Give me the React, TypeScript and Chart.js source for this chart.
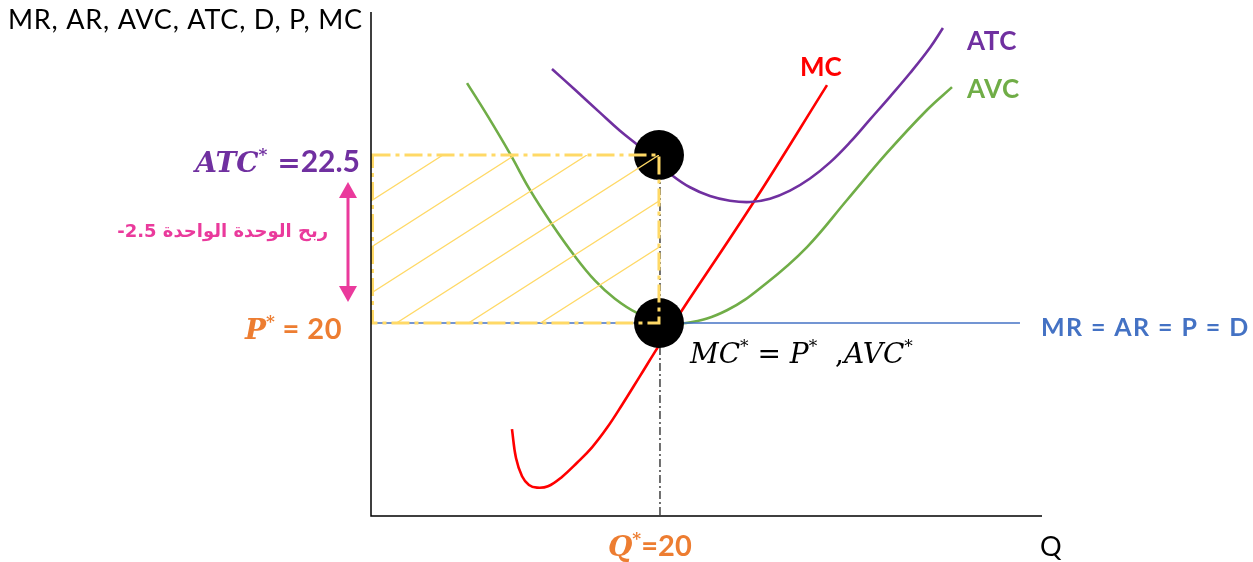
import React, { useEffect, useRef } from "react";
import { Chart, registerables } from "chart.js";

Chart.register(...registerables);

// ---------- data (Q in units, price in units) ----------
const mcQ = [9.79, 10.07, 10.49, 10.97, 11.53, 12.29, 13.26, 14.31, 15.35, 16.39, 17.43, 18.68, 20.07, 21.6, 26.67, 31.67];
const mcValues = [18.42, 17.99, 17.72, 17.59, 17.55, 17.57, 17.71, 17.92, 18.15, 18.44, 18.78, 19.21, 19.69, 20.19, 21.83, 23.54];

const avcQ = [6.67, 8.13, 9.65, 11.04, 12.57, 14.17, 15.56, 16.94, 18.47, 20.07, 21.88, 24.72, 27.5, 30.28, 33.06, 35.83, 38.61, 40.35];
const avcValues = [23.57, 23.07, 22.52, 21.98, 21.47, 20.99, 20.63, 20.36, 20.15, 20.04, 20.0, 20.19, 20.6, 21.13, 21.83, 22.53, 23.17, 23.51];

const atcQ = [12.57, 14.17, 15.9, 17.29, 18.68, 19.79, 20.9, 22.15, 23.54, 24.93, 26.32, 27.71, 29.1, 30.49, 31.88, 33.27, 34.66, 36.05, 37.44, 38.83, 39.72];
const atcValues = [23.78, 23.47, 23.13, 22.86, 22.62, 22.41, 22.2, 22.02, 21.89, 21.82, 21.8, 21.85, 21.97, 22.15, 22.39, 22.69, 23.03, 23.37, 23.72, 24.1, 24.39];

const mrQ = [0, 45.07];
const mrValues = [20, 20];

const qStar = 20;
const pStar = 20;
const atcStar = 22.5;

const xMin = 0;
const xMax = 46.6;
const yMin = 17.128;
const yMax = 24.628;

// ---------- text ----------
const yAxisTitle = "MR, AR, AVC, ATC, D, P, MC";
const xAxisTitle = "Q";
const mcLabel = "MC";
const atcLabel = "ATC";
const avcLabel = "AVC";
const mrLabel = "MR = AR = P = D";
const profitLabel = "ربح الوحدة الواحدة 2.5-";
const atcStarValue = "22.5";
const pStarValue = "20";
const qStarValue = "20";

const PURPLE = "#7030A0";
const GREEN = "#70AD47";
const RED = "#FF0000";
const BLUE = "#4472C4";
const ORANGE = "#ED7D31";
const YELLOW = "#FFD966";
const PINK = "#EA3A9C";

const SERIF = '"DejaVu Serif"';
const SANS = "Lato";

type Run = { t: string; font: string; color: string; dy?: number; ls?: number };

function drawRuns(ctx: CanvasRenderingContext2D, runs: Run[], x: number, y: number, align: "left" | "right" | "center") {
  const c: any = ctx;
  const widths = runs.map((r) => {
    ctx.font = r.font;
    c.letterSpacing = `${r.ls || 0}px`;
    return ctx.measureText(r.t).width;
  });
  const total = widths.reduce((a, b) => a + b, 0);
  let cx = align === "left" ? x : align === "right" ? x - total : x - total / 2;
  ctx.textAlign = "left";
  ctx.textBaseline = "alphabetic";
  runs.forEach((r, i) => {
    ctx.font = r.font;
    c.letterSpacing = `${r.ls || 0}px`;
    ctx.fillStyle = r.color;
    ctx.fillText(r.t, cx, y + (r.dy || 0));
    cx += widths[i];
  });
  c.letterSpacing = "0px";
}

const overlayPlugin = {
  id: "econOverlay",
  afterDatasetsDraw(chart: any) {
    const { ctx, chartArea, scales } = chart;
    const x = scales.x;
    const y = scales.y;
    const qx = x.getPixelForValue(qStar);
    const py = y.getPixelForValue(pStar);
    const ay = y.getPixelForValue(atcStar);
    const left = chartArea.left;

    ctx.save();
    // vertical dash-dot from ATC* to axis
    ctx.strokeStyle = "#404040";
    ctx.lineWidth = 1.5;
    ctx.setLineDash([8, 3, 2, 3]);
    ctx.beginPath();
    ctx.moveTo(qx + 1, ay);
    ctx.lineTo(qx + 1, chartArea.bottom);
    ctx.stroke();
    ctx.setLineDash([]);

    // black dots
    ctx.fillStyle = "#000";
    [ay, py].forEach((cy) => {
      ctx.beginPath();
      ctx.arc(qx, cy, 25, 0, Math.PI * 2);
      ctx.fill();
    });

    // hatch
    ctx.save();
    ctx.beginPath();
    ctx.rect(left, ay, qx - left, py - ay);
    ctx.clip();
    ctx.strokeStyle = YELLOW;
    ctx.lineWidth = 1.3;
    const slope = 0.64;
    const spacing = 72;
    ctx.beginPath();
    for (let k = -3; k <= 2; k++) {
      const xt = qx + k * spacing;
      ctx.moveTo(xt, ay);
      ctx.lineTo(xt - (py - ay) / slope, py);
    }
    ctx.stroke();
    ctx.restore();

    // dashed rectangle
    ctx.strokeStyle = YELLOW;
    ctx.lineWidth = 3;
    ctx.setLineDash([18, 5, 4, 5]);
    ctx.strokeRect(left + 1.5, ay, qx - left - 1.5, py - ay);
    ctx.setLineDash([]);
    ctx.restore();
  },
  afterDraw(chart: any) {
    const { ctx, chartArea, scales } = chart;
    const x = scales.x;
    const y = scales.y;
    const qx = x.getPixelForValue(qStar);
    const py = y.getPixelForValue(pStar);
    const ay = y.getPixelForValue(atcStar);
    const { left, right, top, bottom } = chartArea;

    ctx.save();
    // axes
    ctx.strokeStyle = "#000";
    ctx.lineWidth = 1.5;
    ctx.beginPath();
    ctx.moveTo(left, top);
    ctx.lineTo(left, bottom);
    ctx.lineTo(right, bottom);
    ctx.stroke();

    // pink double arrow
    const ax = left - 23;
    const t0 = ay + 27;
    const b0 = py - 21;
    ctx.strokeStyle = PINK;
    ctx.fillStyle = PINK;
    ctx.lineWidth = 3;
    ctx.beginPath();
    ctx.moveTo(ax, t0 + 14);
    ctx.lineTo(ax, b0 - 14);
    ctx.stroke();
    ctx.beginPath();
    ctx.moveTo(ax, t0);
    ctx.lineTo(ax - 9, t0 + 16);
    ctx.lineTo(ax + 9, t0 + 16);
    ctx.closePath();
    ctx.fill();
    ctx.beginPath();
    ctx.moveTo(ax, b0);
    ctx.lineTo(ax - 9, b0 - 16);
    ctx.lineTo(ax + 9, b0 - 16);
    ctx.closePath();
    ctx.fill();

    // axis titles
    drawRuns(ctx, [{ t: yAxisTitle, font: `27px ${SANS}`, color: "#000", ls: 0.8 }], 8, 29, "left");
    drawRuns(ctx, [{ t: xAxisTitle, font: `27px ${SANS}`, color: "#000" }], right - 2, 556, "left");

    // curve labels
    drawRuns(ctx, [{ t: mcLabel, font: `bold 26px ${SANS}`, color: RED }], 800, 76, "left");
    drawRuns(ctx, [{ t: atcLabel, font: `bold 26px ${SANS}`, color: PURPLE, ls: 0.5 }], 967, 50, "left");
    drawRuns(ctx, [{ t: avcLabel, font: `bold 26px ${SANS}`, color: GREEN, ls: 0.5 }], 967, 98, "left");
    drawRuns(ctx, [{ t: mrLabel, font: `bold 25px ${SANS}`, color: BLUE, ls: 1.4 }], right - 1, py + 13, "left");

    // ATC*
    drawRuns(
      ctx,
      [
        { t: "ATC", font: `italic bold 28px ${SERIF}`, color: PURPLE },
        { t: "*", font: `bold 17px ${SERIF}`, color: PURPLE, dy: -12 },
        { t: " =", font: `bold 28px ${SERIF}`, color: PURPLE },
        { t: atcStarValue, font: `bold 30px ${SANS}`, color: PURPLE },
      ],
      left - 11,
      ay + 17,
      "right"
    );
    // P*
    drawRuns(
      ctx,
      [
        { t: "P", font: `italic bold 28px ${SERIF}`, color: ORANGE },
        { t: "*", font: `bold 17px ${SERIF}`, color: ORANGE, dy: -12 },
        { t: " = " + pStarValue, font: `bold 29px ${SANS}`, color: ORANGE, ls: 0.5 },
      ],
      left - 29,
      py + 16,
      "right"
    );
    // Q*
    drawRuns(
      ctx,
      [
        { t: "Q", font: `italic bold 28px ${SERIF}`, color: ORANGE },
        { t: "*", font: `bold 17px ${SERIF}`, color: ORANGE, dy: -12 },
        { t: "=" + qStarValue, font: `bold 29px ${SANS}`, color: ORANGE },
      ],
      qx - 51,
      556,
      "left"
    );
    // MC* = P*, AVC*
    const it = `italic 28px ${SERIF}`;
    const st = `17px ${SERIF}`;
    drawRuns(
      ctx,
      [
        { t: "MC", font: it, color: "#000" },
        { t: "*", font: st, color: "#000", dy: -11 },
        { t: " = ", font: `28px ${SERIF}`, color: "#000" },
        { t: "P", font: it, color: "#000" },
        { t: "*", font: st, color: "#000", dy: -11 },
        { t: "  ,", font: `28px ${SERIF}`, color: "#000" },
        { t: "AVC", font: it, color: "#000" },
        { t: "*", font: st, color: "#000", dy: -11 },
      ],
      qx + 31,
      py + 40,
      "left"
    );

    // Arabic profit label
    ctx.font = `bold 18px "DejaVu Sans"`;
    ctx.fillStyle = PINK;
    ctx.textAlign = "right";
    ctx.textBaseline = "alphabetic";
    (ctx as any).direction = "rtl";
    ctx.fillText(profitLabel, left - 43, ay + 82);
    ctx.restore();
  },
};

const toPoints = (xs: number[], ys: number[]) => xs.map((q, i) => ({ x: q, y: ys[i] }));

export default function App() {
  const ref = useRef<HTMLCanvasElement | null>(null);
  useEffect(() => {
    document.body.style.margin = "0";
    const canvas = ref.current;
    if (!canvas) return;
    const chart = new Chart(canvas, {
      type: "line",
      data: {
        datasets: [
          { label: "MR", data: toPoints(mrQ, mrValues), borderColor: BLUE, borderWidth: 1.5, pointRadius: 0, tension: 0 },
          { label: "AVC", data: toPoints(avcQ, avcValues), borderColor: GREEN, borderWidth: 2.6, pointRadius: 0, tension: 0.4 },
          { label: "ATC", data: toPoints(atcQ, atcValues), borderColor: PURPLE, borderWidth: 2.6, pointRadius: 0, tension: 0.4 },
          { label: "MC", data: toPoints(mcQ, mcValues), borderColor: RED, borderWidth: 2.6, pointRadius: 0, tension: 0.4 },
        ],
      },
      options: {
        responsive: false,
        animation: false,
        devicePixelRatio: 1,
        layout: { padding: { left: 371, right: 1253 - 1042, top: 12, bottom: 562 - 516 } },
        plugins: { legend: { display: false }, tooltip: { enabled: false } },
        scales: {
          x: { type: "linear", min: xMin, max: xMax, display: false },
          y: { type: "linear", min: yMin, max: yMax, display: false },
        },
      },
      plugins: [overlayPlugin],
    } as any);
    return () => chart.destroy();
  }, []);
  return (
    <div style={{ width: 1253, height: 562 }}>
      <canvas ref={ref} width={1253} height={562} style={{ display: "block" }} />
    </div>
  );
}
